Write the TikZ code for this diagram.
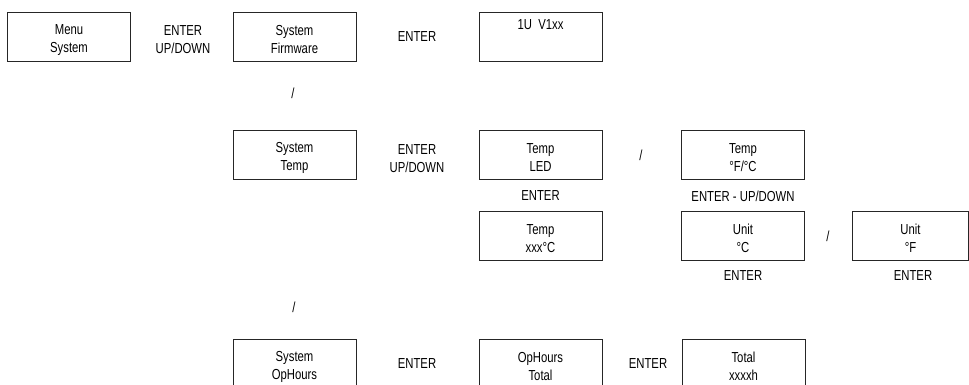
\documentclass[tikz,border=0pt]{standalone}
\usepackage{fontspec}
\setmainfont[FakeStretch=0.78]{Liberation Sans}
\newcommand{\topgap}{\rule{0pt}{16.5pt}}
\begin{document}
\begin{tikzpicture}[x=1pt,y=-1pt,every node/.style={font=\fontsize{14.5}{18}\selectfont, align=center, inner sep=0pt},
  menubox/.style={draw=black!85, line width=0.9pt, minimum width=123pt, minimum height=49pt},
  keylbl/.style={}]
\useasboundingbox (0,0) rectangle (969,385);
% first row
\node[menubox] (menu) at (69,36.5) {\topgap Menu\\System};
\node[keylbl] (k1) at (183,36) {\topgap ENTER\\UP/DOWN};
\node[menubox] (firmware) at (294.5,36.5) {\topgap System\\Firmware};
\node[keylbl] (k2) at (417,37) {ENTER};
\node[menubox] (version) at (540.5,36.5) {1U\ \ V1xx\\\rule[-5pt]{0pt}{5pt}};
\node[keylbl] (s1) at (293,93) {/};
% second row
\node[menubox] (temp) at (294.5,154.5) {\topgap System\\Temp};
\node[keylbl] (k3) at (417,155) {\topgap ENTER\\UP/DOWN};
\node[menubox] (templed) at (540.5,154.5) {\topgap Temp\\LED};
\node[keylbl] (s2) at (641,155) {/};
\node[menubox] (tempunit) at (743,154.5) {\topgap Temp\\°F/°C};
\node[keylbl] (k4) at (540.5,196) {ENTER};
\node[keylbl] (k5) at (743,196) {ENTER - UP/DOWN};
\node[menubox] (tempval) at (540.5,235.5) {\topgap Temp\\xxx°C};
\node[menubox] (unitc) at (743,235.5) {\topgap Unit\\°C};
\node[keylbl] (s3) at (828,236) {/};
\node[menubox, minimum width=116pt] (unitf) at (910.5,235.5) {\topgap Unit\\°F};
\node[keylbl] (k6) at (743,276) {ENTER};
\node[keylbl] (k7) at (913,276) {ENTER};
% third row
\node[keylbl] (s4) at (294,307) {/};
\node[menubox] (ophours) at (294.5,363.5) {\topgap System\\OpHours};
\node[keylbl] (k8) at (417,364) {ENTER};
\node[menubox] (optotal) at (540.5,363.5) {\topgap OpHours\\Total};
\node[keylbl] (k9) at (648,364) {ENTER};
\node[menubox] (total) at (743.5,363.5) {\topgap Total\\xxxxh};
\end{tikzpicture}
\end{document}
